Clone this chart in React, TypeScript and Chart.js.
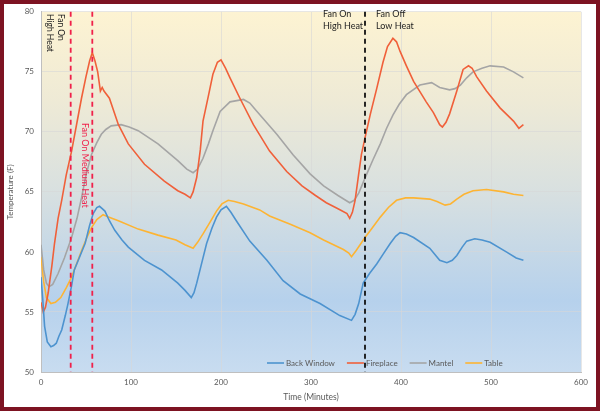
import React, { useEffect, useRef } from "react";
import { Chart, registerables } from "chart.js";

Chart.register(...registerables);

const seriesNames = ["Back Window", "Fireplace", "Mantel", "Table"];
const seriesColors = ["#4D93CF", "#F0603A", "#A5A5A5", "#FDB433"];

const backWindowTime = [0, 2, 4, 7, 11, 14, 17, 20, 23, 27, 30, 34, 37, 43, 49, 54, 58, 62, 65, 68, 71, 76, 82, 90, 97, 115, 134, 152, 160, 167, 170, 173, 178, 184, 190, 195, 200, 206, 211, 217, 232, 251, 269, 288, 310, 332, 345, 349, 353, 358, 365, 373, 380, 388, 394, 399, 406, 414, 432, 443, 451, 457, 462, 468, 473, 482, 490, 499, 517, 528, 536];
const backWindowTemp = [57.9, 56.0, 53.8, 52.5, 52.1, 52.2, 52.4, 53.0, 53.5, 54.7, 55.7, 57.2, 58.5, 59.6, 60.7, 62.2, 63.2, 63.7, 63.8, 63.6, 63.4, 62.6, 61.8, 61.0, 60.4, 59.3, 58.5, 57.4, 56.8, 56.2, 56.6, 57.4, 58.9, 60.7, 62.0, 62.9, 63.5, 63.8, 63.3, 62.6, 60.9, 59.3, 57.6, 56.5, 55.7, 54.7, 54.3, 54.8, 55.7, 57.4, 58.2, 59.0, 59.8, 60.7, 61.3, 61.6, 61.5, 61.2, 60.3, 59.3, 59.1, 59.3, 59.7, 60.4, 60.9, 61.1, 61.0, 60.8, 60.0, 59.5, 59.3];

const fireplaceTime = [0, 2.5, 5, 8, 12, 15, 19, 23, 28, 34, 40, 45, 50, 54, 57, 60, 63, 66, 68, 70, 76, 86, 97, 115, 137, 152, 160, 166, 169, 173, 177, 180, 186, 191, 196, 200, 205, 210, 221, 236, 254, 273, 290, 305, 317, 330, 340, 343, 346, 349, 353, 356, 360, 366, 373, 380, 385, 391, 395, 399, 406, 414, 428, 436, 443, 446, 450, 454, 462, 469, 475, 479, 484, 495, 510, 525, 531, 536];
const fireplaceTemp = [55.8, 55.0, 55.4, 56.6, 58.8, 60.7, 62.8, 64.3, 66.4, 68.4, 70.8, 72.8, 74.6, 75.9, 76.6, 75.9, 75.0, 73.4, 73.7, 73.4, 72.8, 70.6, 69.0, 67.3, 65.9, 65.1, 64.8, 64.5, 65.0, 66.2, 68.5, 70.9, 73.0, 74.8, 75.8, 76.0, 75.3, 74.5, 72.8, 70.6, 68.4, 66.7, 65.5, 64.7, 64.1, 63.6, 63.2, 62.8, 63.3, 64.3, 66.5, 68.1, 69.5, 71.5, 73.6, 75.8, 77.1, 77.8, 77.5, 76.7, 75.5, 74.2, 72.5, 71.6, 70.6, 70.4, 70.8, 71.5, 73.4, 75.2, 75.5, 75.3, 74.6, 73.4, 72.0, 70.9, 70.3, 70.6];

const mantelTime = [0, 3, 6, 9, 13, 19, 26, 34, 40, 45, 50, 56, 62, 67, 72, 78, 89, 98, 108, 130, 152, 162, 169, 174, 180, 186, 191, 199, 210, 225, 232, 240, 262, 280, 299, 314, 330, 343, 348, 353, 362, 369, 377, 384, 391, 398, 406, 421, 434, 443, 454, 460, 466, 473, 480, 490, 499, 514, 525, 536];
const mantelTemp = [60.6, 58.5, 57.4, 57.1, 57.3, 58.2, 59.5, 61.2, 62.8, 64.5, 66.4, 68.1, 69.1, 69.8, 70.2, 70.5, 70.6, 70.4, 70.1, 69.0, 67.6, 66.9, 66.6, 66.9, 67.8, 69.0, 70.1, 71.7, 72.5, 72.7, 72.4, 71.7, 69.8, 68.1, 66.5, 65.5, 64.7, 64.1, 64.3, 64.9, 66.5, 67.7, 69.0, 70.3, 71.4, 72.3, 73.1, 73.9, 74.1, 73.7, 73.5, 73.6, 73.9, 74.5, 75.0, 75.3, 75.5, 75.4, 75.0, 74.5];

const tableTime = [0, 3, 6, 11, 16, 22, 28, 34, 40, 45, 51, 56, 62, 69, 75, 86, 108, 130, 150, 160, 169, 174, 180, 188, 195, 201, 208, 215, 225, 243, 254, 277, 299, 314, 336, 342, 345, 350, 360, 368, 377, 386, 395, 405, 414, 432, 440, 449, 455, 462, 470, 480, 495, 514, 525, 536];
const tableTemp = [59.6, 57.5, 56.2, 55.7, 55.8, 56.2, 57.0, 57.9, 59.1, 60.1, 61.2, 62.0, 62.7, 63.1, 62.9, 62.6, 61.9, 61.4, 61.0, 60.6, 60.3, 60.8, 61.5, 62.5, 63.4, 64.0, 64.3, 64.2, 64.0, 63.5, 63.0, 62.3, 61.6, 61.0, 60.2, 59.9, 59.6, 60.1, 61.2, 62.0, 62.9, 63.7, 64.3, 64.5, 64.5, 64.4, 64.2, 63.9, 64.0, 64.4, 64.8, 65.1, 65.2, 65.0, 64.8, 64.7];

const xTicks = [0, 100, 200, 300, 400, 500, 600];
const yTicks = [50, 55, 60, 65, 70, 75, 80];
const xTitle = "Time (Minutes)";

const eventTimes = [33, 57, 360];
const eventColors = ["#F0204A", "#F0204A", "#111111"];

const FONT = "Lato, 'Open Sans', sans-serif";

function toPoints(t: number[], v: number[]) {
  return t.map((x, i) => ({ x, y: v[i] }));
}

const decorPlugin = {
  id: "decor",
  beforeDraw(chart: any) {
    const { ctx, chartArea: a, width, height } = chart;
    ctx.save();
    ctx.fillStyle = "#ffffff";
    ctx.fillRect(0, 0, width, height);
    const g = ctx.createLinearGradient(0, a.top, 0, a.bottom);
    g.addColorStop(0, "#FDF3D2");
    g.addColorStop(0.25, "#EEEAD6");
    g.addColorStop(0.5, "#D8E0E0");
    g.addColorStop(0.8, "#B6D1EC");
    g.addColorStop(1, "#C8DCF0");
    ctx.fillStyle = g;
    ctx.fillRect(a.left, a.top, a.right - a.left, a.bottom - a.top);
    ctx.restore();
  },
  afterDatasetsDraw(chart: any) {
    const { ctx, chartArea: a, scales } = chart;
    const xs = scales.x;
    ctx.save();
    // legend
    ctx.font = `8px ${FONT}`;
    ctx.textBaseline = "middle";
    ctx.textAlign = "left";
    let lx = 267;
    const ly = 363;
    seriesNames.forEach((name, i) => {
      ctx.strokeStyle = seriesColors[i];
      ctx.lineWidth = 1.6;
      ctx.beginPath();
      ctx.moveTo(lx, ly);
      ctx.lineTo(lx + 17, ly);
      ctx.stroke();
      ctx.fillStyle = "#595959";
      ctx.fillText(name, lx + 19, ly);
      lx += 19 + ctx.measureText(name).width + 12;
    });
    // event lines
    eventTimes.forEach((t, i) => {
      const px = xs.getPixelForValue(t);
      ctx.strokeStyle = eventColors[i];
      ctx.lineWidth = 1.8;
      ctx.setLineDash([5, 4]);
      ctx.beginPath();
      ctx.moveTo(px, a.top);
      ctx.lineTo(px, a.bottom);
      ctx.stroke();
    });
    ctx.setLineDash([]);
    // rotated annotations
    const drawRot = (lines: string[], x: number, y: number, color: string, size: number) => {
      ctx.save();
      ctx.translate(x, y);
      ctx.rotate(Math.PI / 2);
      ctx.fillStyle = color;
      ctx.font = `${size}px ${FONT}`;
      ctx.textAlign = "left";
      ctx.textBaseline = "middle";
      lines.forEach((l, i) => ctx.fillText(l, 0, i * 11));
      ctx.restore();
    };
    drawRot(["Fan On", "High Heat"], 61, 14, "#222222", 8.5);
    drawRot(["Fan On Medium Heat"], 84.5, 123, "#F0204A", 9);
    // horizontal annotations
    ctx.fillStyle = "#222222";
    ctx.font = `9px ${FONT}`;
    ctx.textAlign = "left";
    ctx.textBaseline = "middle";
    ctx.fillText("Fan On", 323, 14);
    ctx.fillText("High Heat", 323, 26);
    ctx.fillText("Fan Off", 376, 14);
    ctx.fillText("Low Heat", 376, 26);
    ctx.restore();
  },
  afterDraw(chart: any) {
    const { ctx, width, height, chartArea: a } = chart;
    ctx.save();
    // x axis title
    ctx.fillStyle = "#595959";
    ctx.font = `8.5px ${FONT}`;
    ctx.textAlign = "center";
    ctx.textBaseline = "middle";
    ctx.fillText(xTitle, (a.left + a.right) / 2, 397);
    // outer border
    ctx.strokeStyle = "#7D1322";
    ctx.lineWidth = 4;
    ctx.strokeRect(2, 2, width - 4, height - 4);
    ctx.restore();
  },
};

export default function App() {
  const ref = useRef<HTMLCanvasElement | null>(null);
  useEffect(() => {
    if (!ref.current) return;
    const times = [backWindowTime, fireplaceTime, mantelTime, tableTime];
    const temps = [backWindowTemp, fireplaceTemp, mantelTemp, tableTemp];
    const chart = new Chart(ref.current, {
      type: "line",
      data: {
        datasets: seriesNames.map((name, i) => ({
          label: name,
          data: toPoints(times[i], temps[i]),
          borderColor: seriesColors[i],
          backgroundColor: seriesColors[i],
          borderWidth: 1.6,
          pointRadius: 0,
          tension: 0,
          fill: false,
        })),
      },
      options: {
        animation: false,
        responsive: false,
        maintainAspectRatio: false,
        devicePixelRatio: 1,
        layout: { padding: { left: 4, top: 10, right: 19, bottom: 4 } },
        plugins: { legend: { display: false }, tooltip: { enabled: false } },
        scales: {
          x: {
            type: "linear",
            min: 0,
            max: 600,
            afterBuildTicks: (s: any) => {
              s.ticks = xTicks.map((v) => ({ value: v }));
            },
            afterFit: (s: any) => {
              s.height = 35;
            },
            ticks: { color: "#595959", font: { size: 8, family: FONT }, padding: 6, maxRotation: 0 },
            grid: { color: "rgba(215,215,215,0.6)", drawTicks: false, lineWidth: 1 },
            border: { color: "#BFBFBF" },
            title: { display: false },
          },
          y: {
            type: "linear",
            min: 50,
            max: 80,
            afterBuildTicks: (s: any) => {
              s.ticks = yTicks.map((v) => ({ value: v }));
            },
            afterFit: (s: any) => {
              s.width = 37;
            },
            ticks: { color: "#595959", font: { size: 8, family: FONT }, padding: 7 },
            grid: { color: "rgba(215,215,215,0.6)", drawTicks: false, lineWidth: 1 },
            border: { color: "#BFBFBF" },
            title: { display: true, text: "Temperature (F)", color: "#595959", font: { size: 8, family: FONT }, padding: { top: 2, bottom: 4 } },
          },
        },
      },
      plugins: [decorPlugin],
    } as any);
    return () => chart.destroy();
  }, []);
  return (
    <div style={{ position: "fixed", left: 0, top: 0, width: 600, height: 411 }}>
      <canvas ref={ref} width={600} height={411} style={{ display: "block", width: 600, height: 411 }} />
    </div>
  );
}
